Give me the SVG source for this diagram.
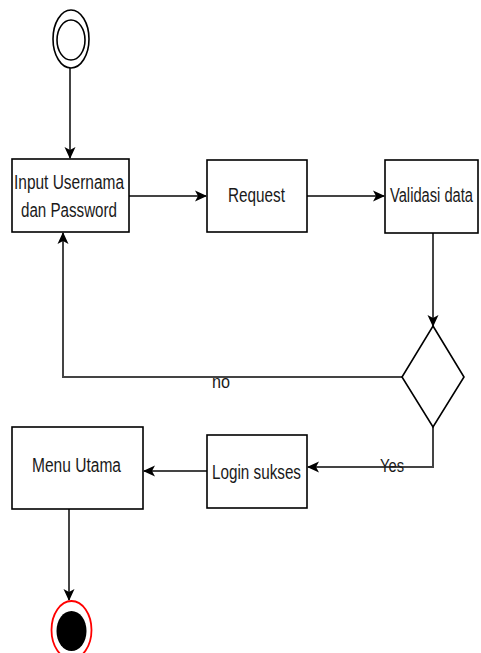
<svg xmlns="http://www.w3.org/2000/svg" width="481" height="653" viewBox="0 0 481 653">
  <defs>
    <marker id="arrow" viewBox="0 0 12 12" refX="11" refY="6" markerWidth="12" markerHeight="12" markerUnits="userSpaceOnUse" orient="auto">
      <path d="M0,0.5 L12,6 L0,11.5 L3,6 z" fill="#000"/>
    </marker>
    <style>
      .box { fill: #fff; stroke: #000; stroke-width: 1.6; }
      .edge { fill: none; stroke: #444; stroke-width: 2; marker-end: url(#arrow); }
      .label { font-family: "Liberation Sans", Arial, sans-serif; font-size: 20px; fill: #1a1a1a; }
      .small { font-family: "Liberation Sans", Arial, sans-serif; font-size: 18px; fill: #1a1a1a; }
    </style>
  </defs>
  <rect width="481" height="653" fill="#fff"/>

  <!-- connectors -->
  <g id="connectors">
    <line class="edge" x1="70" y1="68" x2="70" y2="158"/>
    <line class="edge" x1="129" y1="196" x2="206" y2="196"/>
    <line class="edge" x1="307" y1="196" x2="384" y2="196"/>
    <line class="edge" x1="433" y1="233" x2="433" y2="326"/>
    <polyline class="edge" points="402,377 63,377 63,233"/>
    <text class="small" x="212" y="388" textLength="18" lengthAdjust="spacingAndGlyphs">no</text>
    <polyline class="edge" points="433,427 433,467 308,467"/>
    <text class="small" x="380" y="472" textLength="24" lengthAdjust="spacingAndGlyphs">Yes</text>
    <line class="edge" x1="207" y1="471" x2="144" y2="471"/>
    <line class="edge" x1="69" y1="509" x2="69" y2="600"/>
  </g>

  <!-- start -->
  <g id="start">
    <ellipse cx="71" cy="39" rx="18" ry="29" fill="#fff" stroke="#000" stroke-width="1.6"/>
    <ellipse cx="71" cy="40" rx="14" ry="20" fill="#fff" stroke="#000" stroke-width="1.6"/>
  </g>

  <g id="input">
    <rect class="box" x="12" y="159" width="117" height="73"/>
    <text class="label" x="14" y="189" textLength="110" lengthAdjust="spacingAndGlyphs">Input Usernama</text>
    <text class="label" x="21" y="217" textLength="96" lengthAdjust="spacingAndGlyphs">dan Password</text>
  </g>

  <g id="request">
    <rect class="box" x="207" y="160" width="100" height="72"/>
    <text class="label" x="228" y="202" textLength="57" lengthAdjust="spacingAndGlyphs">Request</text>
  </g>

  <g id="validasi">
    <rect class="box" x="385" y="160" width="93" height="73"/>
    <text class="label" x="390" y="202" textLength="83" lengthAdjust="spacingAndGlyphs">Validasi data</text>
  </g>

  <g id="decision">
    <polygon class="box" points="433,326 464,377 433,427 402,377"/>
  </g>

  <g id="login">
    <rect class="box" x="207" y="435" width="100" height="73"/>
    <text class="label" x="212" y="479" textLength="89" lengthAdjust="spacingAndGlyphs">Login sukses</text>
  </g>

  <g id="menu">
    <rect class="box" x="12" y="427" width="131" height="82"/>
    <text class="label" x="32" y="472" textLength="89" lengthAdjust="spacingAndGlyphs">Menu Utama</text>
  </g>

  <!-- end -->
  <g id="end">
    <ellipse cx="71.5" cy="630" rx="20" ry="29" fill="#fff" stroke="#ff0000" stroke-width="1.8"/>
    <ellipse cx="71.5" cy="631" rx="15" ry="20" fill="#000"/>
  </g>
</svg>
